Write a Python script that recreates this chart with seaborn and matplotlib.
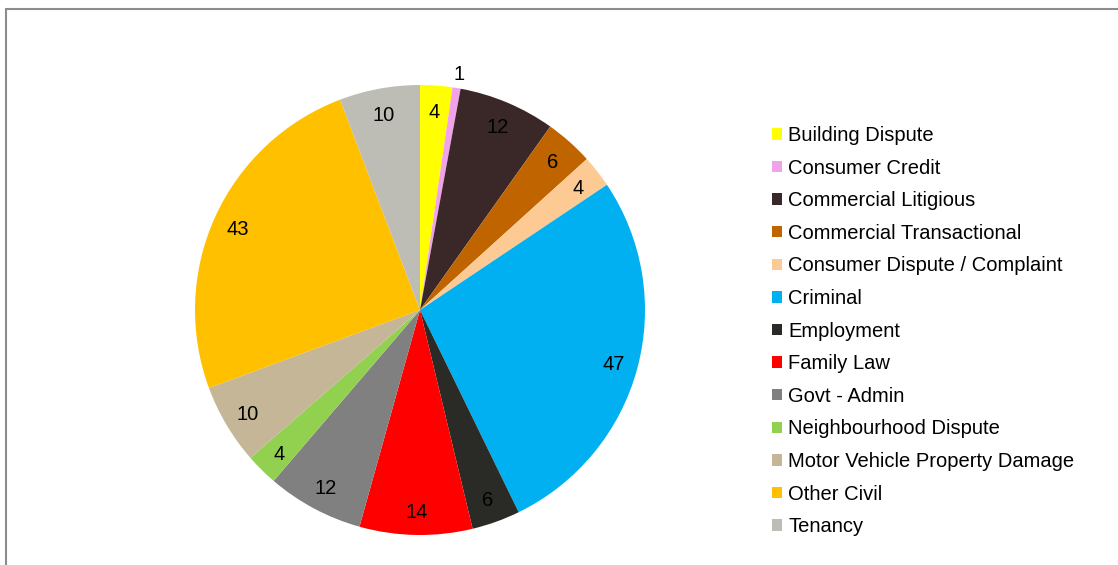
import numpy as np
import matplotlib
matplotlib.use('Agg')
import matplotlib.pyplot as plt
import seaborn as sns

categories = ['Building Dispute', 'Consumer Credit', 'Commercial Litigious',
              'Commercial Transactional', 'Consumer Dispute / Complaint',
              'Criminal', 'Employment', 'Family Law', 'Govt - Admin',
              'Neighbourhood Dispute', 'Motor Vehicle Property Damage',
              'Other Civil', 'Tenancy']
counts = [4, 1, 12, 6, 4, 47, 6, 14, 12, 4, 10, 43, 10]
colours = ['#FFFF00', '#F2A2E8', '#3A2828', '#C06400', '#FDCA93', '#00B0F0',
           '#2A2A26', '#FF0000', '#808080', '#92D050', '#C4B696', '#FFC000',
           '#BDBDB6']

sns.set_theme(style="white")
plt.rcParams['font.family'] = ['Liberation Sans', 'DejaVu Sans']
plt.rcParams['text.color'] = 'black'

fig = plt.figure(figsize=(11.18, 5.65), dpi=100)
W, H = 1118, 565

# outer frame of the chart area
fig.patches.append(plt.Rectangle((6 / W, -0.1), 1.2, (H - 9) / H + 0.1,
                                 transform=fig.transFigure, fill=False,
                                 edgecolor='#8c8c8c', linewidth=1.5))

cx, cy, r = 420, H - 310, 225
ax = fig.add_axes([(cx - r) / W, (cy - r) / H, 2 * r / W, 2 * r / H])

wedges, _ = ax.pie(counts, colors=sns.color_palette(colours), startangle=90,
                   counterclock=False, radius=1,
                   wedgeprops=dict(linewidth=0))
ax.set_xlim(-1, 1)
ax.set_ylim(-1, 1)
ax.set_aspect('equal')
ax.axis('off')

for w, n in zip(wedges, counts):
    ang = np.deg2rad((w.theta1 + w.theta2) / 2)
    dist = 1.07 if n == 1 else 0.89
    ax.text(dist * np.cos(ang), dist * np.sin(ang), str(n), ha='center',
            va='center_baseline', fontsize=14.5, color='black', clip_on=False)

leg = fig.legend(wedges, categories, loc='upper left',
                 bbox_to_anchor=(764 / W, (H - 118) / H), frameon=False,
                 fontsize=14.5, handlelength=0.5, handleheight=0.5,
                 handletextpad=0.3, labelspacing=0.675, borderaxespad=0)
for t in leg.get_texts():
    t.set_color('black')

fig.savefig('out.png', dpi=100)
plt.close(fig)
